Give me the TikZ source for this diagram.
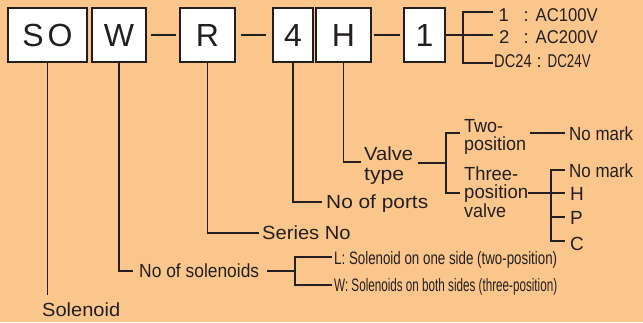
\documentclass[tikz,border=0pt]{standalone}
\usepackage{fontspec}
\setmainfont{Liberation Sans}
\definecolor{bg}{HTML}{FBC68C}
\definecolor{ink}{HTML}{231F20}
\newcommand\fitw[2]{\resizebox{#1pt}{\height}{#2}}
\begin{document}
\begin{tikzpicture}[x=1pt,y=-1pt,
 box/.style={draw=ink, line width=1.5pt, fill=white, inner sep=0pt, font=\fontsize{32}{32}\selectfont, text=ink},
 lbl/.style={anchor=base west, inner sep=0pt, font=\fontsize{19}{19}\selectfont, text=ink},
 nlbl/.style={anchor=base west, inner sep=0pt, font=\fontsize{18.5}{18.5}\selectfont, text=ink},
 conn/.style={draw=ink, line width=1.1pt},
 dashline/.style={draw=ink, line width=2.6pt}]
\fill[bg] (0,0) rectangle (643,322);
\useasboundingbox (0,0) rectangle (643,322);
% boxes
\node[box, minimum width=79pt, minimum height=54pt] (so) at (47.5,35) {S\hspace{4pt}O};
\node[box, minimum width=54pt, minimum height=54pt] (w) at (119,35) {W};
\node[box, minimum width=55pt, minimum height=54pt] (r) at (207.5,35) {R};
\node[box, minimum width=40pt, minimum height=54pt] (p4) at (293,35) {4};
\node[box, minimum width=55pt, minimum height=54pt] (h) at (343.5,35) {H};
\node[box, minimum width=41pt, minimum height=54pt] (one) at (424.5,35) {1};
\draw[dashline, shorten <=4pt, shorten >=3pt] (w.east) -- (r.west);
\draw[dashline, shorten <=5pt, shorten >=6pt] (r.east) -- (p4.west);
\draw[dashline, shorten <=2pt, shorten >=3pt] (h.east) -- (one.west);
% voltage labels
\node[nlbl] (v1a) at (498.5,21) {1};
\node[nlbl] (v1b) at (523.5,21) {:};
\node[nlbl] (v1c) at (535.5,21) {\fitw{62}{AC100V}};
\node[nlbl] (v2a) at (499,43) {2};
\node[nlbl] (v2b) at (523.5,43) {:};
\node[nlbl] (v2c) at (535.5,43) {\fitw{62}{AC200V}};
\node[nlbl] (v3a) at (494,67) {\fitw{37.5}{DC24}};
\node[nlbl] (v3b) at (536.5,67) {:};
\node[nlbl] (v3c) at (547.5,67) {\fitw{43}{DC24V}};
\coordinate (oJ) at (463,35);
\coordinate (o1) at (493,12);
\coordinate (o2) at (493,35);
\coordinate (o3) at (493,63);
\draw[conn] (one.east) -- (oJ);
\draw[conn] (o1) -| (oJ) |- (o3);
\draw[conn] (oJ) -- (o2);
% main labels
\node[lbl] (solenoid) at (42,316.7) {\fitw{78}{Solenoid}};
\node[lbl] (nosol) at (139,277.5) {\fitw{120}{No of solenoids}};
\node[lbl] (series) at (262,239.3) {\fitw{88.5}{Series No}};
\node[lbl] (ports) at (326,208.3) {\fitw{102}{No of ports}};
\node[lbl] (valve1) at (364,160.7) {\fitw{49}{Valve}};
\node[lbl] (valve2) at (364,180) {\fitw{40}{type}};
\node[lbl] (two1) at (464,132.3) {\fitw{39}{Two-}};
\node[lbl] (two2) at (464,150) {\fitw{62}{position}};
\node[lbl] (three1) at (464,180) {\fitw{54}{Three-}};
\node[lbl] (three2) at (464,198.5) {\fitw{64}{position}};
\node[lbl] (three3) at (464,217.3) {\fitw{42}{valve}};
\node[lbl] (nm1) at (569,140) {\fitw{64}{No mark}};
\node[lbl] (nm2) at (569,177.3) {\fitw{64}{No mark}};
\node[lbl] (mH) at (570,200) {H};
\node[lbl] (mP) at (570,224) {P};
\node[lbl] (mC) at (570,250.7) {C};
\node[nlbl, font=\fontsize{18}{18}\selectfont] (solL) at (334,264) {\fitw{223}{L: Solenoid on one side (two-position)}};
\node[nlbl, font=\fontsize{18}{18}\selectfont] (solW) at (334,291.7) {\fitw{223}{W: Solenoids on both sides (three-position)}};
% connectors
\coordinate (soEnd) at (47.5,295);
\draw[conn] (so.south) -- (soEnd);
\coordinate (wEnd) at (133,271);
\draw[conn] (w.south) |- (wEnd);
\coordinate (solA) at (267,271);
\coordinate (solB) at (295,271);
\coordinate (sL) at (332,257);
\coordinate (sW) at (332,285);
\draw[conn] (solA) -- (solB);
\draw[conn] (sL) -| (solB) |- (sW);
\coordinate (rEnd) at (259,233);
\draw[conn] (r.south) |- (rEnd);
\coordinate (pEnd) at (322,202);
\draw[conn] (p4.south) |- (pEnd);
\coordinate (hEnd) at (361,162);
\draw[conn] (h.south) |- (hEnd);
\coordinate (vA) at (418,163);
\coordinate (vB) at (446,163);
\coordinate (tTwo) at (460,133);
\coordinate (tThree) at (460,193);
\draw[conn] (vA) -- (vB);
\draw[conn] (tTwo) -| (vB) |- (tThree);
\coordinate (nA) at (530,133);
\coordinate (nB) at (565,133);
\draw[conn] (nA) -- (nB);
\coordinate (tp) at (528,193);
\coordinate (kJ) at (551,193);
\coordinate (kNo) at (565,170);
\coordinate (kH) at (565,193);
\coordinate (kP0) at (551,217);
\coordinate (kP) at (565,217);
\coordinate (kC) at (565,241);
\draw[conn] (tp) -- (kJ) -- (kH);
\draw[conn] (kNo) -| (kJ) |- (kC);
\draw[conn] (kP0) -- (kP);
\end{tikzpicture}
\end{document}
